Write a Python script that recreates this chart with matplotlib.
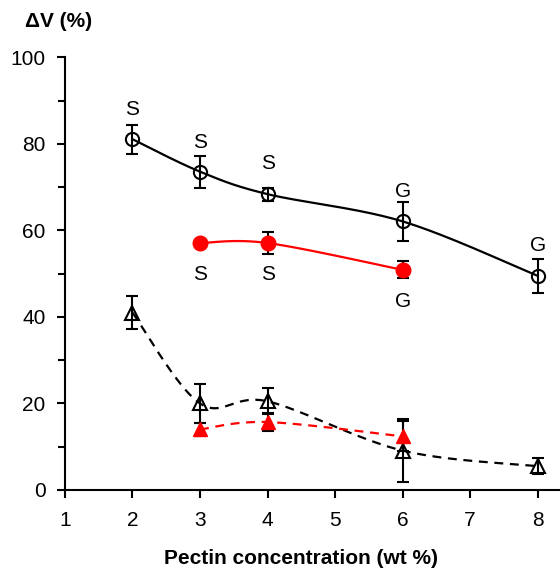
import numpy as np
import matplotlib

matplotlib.use('Agg')
import matplotlib.pyplot as plt

plt.rcParams['font.family'] = ['Liberation Sans', 'DejaVu Sans']

# Open circles (black, solid)
circ_x = [2, 3, 4, 6, 8]
circ_y = [81.1, 73.6, 68.4, 62.1, 49.5]
circ_err = [3.4, 3.7, 1.5, 4.6, 3.9]
circ_lab = ['S', 'S', 'S', 'G', 'G']
circ_lab_y = [87.9, 80.4, 75.4, 69.0, 56.5]

# Filled red circles
red_x = [3, 4, 6]
red_y = [57.1, 57.1, 50.9]
red_err = [0.8, 2.5, 2.0]
red_lab = ['S', 'S', 'G']
red_lab_y = [49.8, 49.8, 43.5]

# Open triangles (black, dashed)
tri_x = [2, 3, 4, 6, 8]
tri_y = [41.0, 20.0, 20.5, 9.1, 5.5]
tri_err = [3.8, 4.5, 3.0, 7.3, 1.8]

# Filled red triangles
rtri_x = [3, 4, 6]
rtri_y = [14.0, 15.7, 12.4]
rtri_err = [1.5, 2.0, 3.5]

x_ticks = [1, 2, 3, 4, 5, 6, 7, 8]
y_ticks = [0, 20, 40, 60, 80, 100]


def smoothCurve(xs, ys, n=40):
    # Excel-like smoothed line: cubic Bezier with Catmull-Rom control points
    p = np.column_stack([xs, ys]).astype(float)
    p_ext = np.vstack([p[0], p, p[-1]])
    out = []
    t = np.linspace(0, 1, n)[:, None]
    for i in range(len(p) - 1):
        p0, p1, p2, p3 = p_ext[i], p_ext[i + 1], p_ext[i + 2], p_ext[i + 3]
        c1 = p1 + (p2 - p0) / 6.0
        c2 = p2 - (p3 - p1) / 6.0
        seg = ((1 - t) ** 3) * p1 + 3 * ((1 - t) ** 2) * t * c1 + 3 * (1 - t) * t ** 2 * c2 + t ** 3 * p2
        out.append(seg)
    out = np.vstack(out)
    return out[:, 0], out[:, 1]


fig = plt.figure(figsize=(5.6, 5.72), dpi=100)
ax = fig.add_axes([0.116, 0.1434, 0.884, 0.7561])

lw = 1.6
ekw = dict(fmt='none', ecolor='black', elinewidth=1.5, capsize=4.5, capthick=1.5, zorder=2)

# curves
sx, sy = smoothCurve(circ_x, circ_y)
ax.plot(sx, sy, color='black', lw=lw, zorder=1)
sx, sy = smoothCurve(red_x, red_y)
ax.plot(sx, sy, color='red', lw=lw, zorder=1)
sx, sy = smoothCurve(tri_x, tri_y)
ax.plot(sx, sy, color='black', lw=lw, ls=(0, (4, 3)), zorder=1)
sx, sy = smoothCurve(rtri_x, rtri_y)
ax.plot(sx, sy, color='red', lw=lw, ls=(0, (4, 3)), zorder=1)

# error bars
ax.errorbar(circ_x, circ_y, yerr=circ_err, **ekw)
ax.errorbar(red_x, red_y, yerr=red_err, **ekw)
ax.errorbar(tri_x, tri_y, yerr=tri_err, **ekw)
ax.errorbar(rtri_x, rtri_y, yerr=rtri_err, **ekw)

# markers
ax.plot(circ_x, circ_y, 'o', ms=9.5, mfc='none', mec='black', mew=1.5, zorder=3)
ax.plot(red_x, red_y, 'o', ms=10.5, mfc='red', mec='red', zorder=3)
ax.plot(tri_x, tri_y, '^', ms=10, mfc='none', mec='black', mew=1.5, zorder=3)
ax.plot(rtri_x, rtri_y, '^', ms=10, mfc='red', mec='red', zorder=3)

# S / G annotations
for x, y, s in zip(circ_x, circ_lab_y, circ_lab):
    ax.text(x, y, s, ha='center', va='center', fontsize=15)
for x, y, s in zip(red_x, red_lab_y, red_lab):
    ax.text(x, y, s, ha='center', va='center', fontsize=15)

ax.set_xlim(1, 8.33)
ax.set_ylim(0, 100)
ax.set_xticks(x_ticks)
ax.set_yticks(y_ticks)
ax.set_yticks([10, 30, 50, 70, 90], minor=True)
ax.spines['top'].set_visible(False)
ax.spines['right'].set_visible(False)
for sp in ['left', 'bottom']:
    ax.spines[sp].set_linewidth(1.5)
ax.tick_params(axis='both', which='both', direction='out', width=1.5, labelsize=15)
ax.tick_params(axis='both', which='major', length=6)
ax.tick_params(axis='y', which='minor', length=5)
ax.tick_params(axis='y', pad=8)
ax.tick_params(axis='x', pad=9)

ax.set_xlabel('Pectin concentration (wt %)', fontsize=15, fontweight='bold', labelpad=14)
ax.xaxis.label.set_x(0.477)
fig.text(0.104, 0.962, '\u0394V (%)', ha='center', va='center', fontsize=15, fontweight='bold')

fig.savefig('out.png', dpi=100)
